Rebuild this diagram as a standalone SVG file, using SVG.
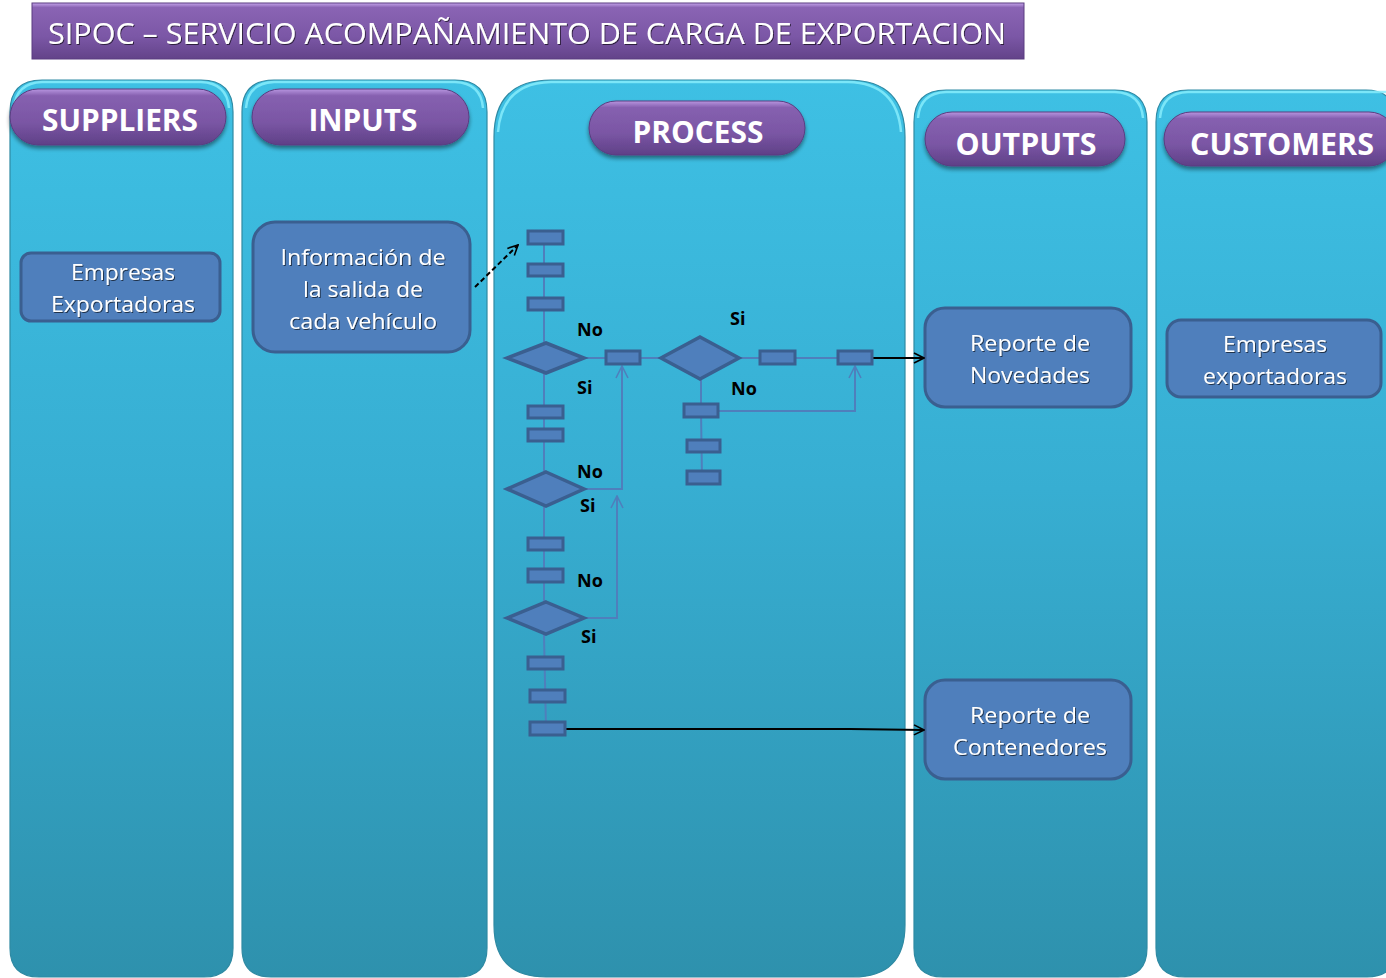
<svg xmlns="http://www.w3.org/2000/svg" width="1386" height="978" viewBox="0 0 1386 978">
  <defs>
    <linearGradient id="colFill" x1="0" y1="0" x2="0" y2="1">
      <stop offset="0" stop-color="#3ec0e4"/>
      <stop offset="0.45" stop-color="#37aed2"/>
      <stop offset="1" stop-color="#2e91ad"/>
    </linearGradient>
    <linearGradient id="pillFill" x1="0" y1="0" x2="0" y2="1">
      <stop offset="0" stop-color="#b896e0"/>
      <stop offset="0.12" stop-color="#8660b0"/>
      <stop offset="0.6" stop-color="#7a56a4"/>
      <stop offset="1" stop-color="#5f4087"/>
    </linearGradient>
    <linearGradient id="titleFill" x1="0" y1="0" x2="0" y2="1">
      <stop offset="0" stop-color="#c4a4ea"/>
      <stop offset="0.08" stop-color="#8a64b4"/>
      <stop offset="0.6" stop-color="#7b57a6"/>
      <stop offset="1" stop-color="#634389"/>
    </linearGradient>
    <filter id="pillShadow" x="-10%" y="-20%" width="120%" height="160%">
      <feGaussianBlur in="SourceAlpha" stdDeviation="2"/>
      <feOffset dy="3"/>
      <feComponentTransfer><feFuncA type="linear" slope="0.45"/></feComponentTransfer>
      <feMerge><feMergeNode/><feMergeNode in="SourceGraphic"/></feMerge>
    </filter>
    <filter id="txtShadow" x="-5%" y="-20%" width="110%" height="140%">
      <feGaussianBlur in="SourceAlpha" stdDeviation="0.6"/>
      <feOffset dx="1" dy="1"/>
      <feComponentTransfer><feFuncA type="linear" slope="0.6"/></feComponentTransfer>
      <feMerge><feMergeNode/><feMergeNode in="SourceGraphic"/></feMerge>
    </filter>
    <marker id="openArrow" viewBox="0 0 12 12" refX="11" refY="6" markerWidth="12" markerHeight="12" markerUnits="userSpaceOnUse" orient="auto">
      <path d="M1,1 L11,6 L1,11" fill="none" stroke="#000" stroke-width="1.6"/>
    </marker>
    <marker id="blueArrow" viewBox="0 0 14 14" refX="13" refY="7" markerWidth="14" markerHeight="14" markerUnits="userSpaceOnUse" orient="auto">
      <path d="M1,1 L13,7 L1,13" fill="none" stroke="#4f7fbc" stroke-width="1.6"/>
    </marker>
  </defs>
  <style>
    .col { fill: url(#colFill); stroke: #2f8aa3; stroke-width: 1.2; }
    .colTop { fill: none; stroke: #86ecfb; stroke-width: 2.5; opacity: 0.85; }
    .pill { fill: url(#pillFill); stroke: #5a3c80; stroke-width: 1; }
    .head { font-family: "Open Sans", "Liberation Sans", sans-serif; font-weight: bold; font-size: 30px; fill: #ffffff; text-anchor: middle; }
    .node { fill: #4f7fbc; stroke: #3a5f90; stroke-width: 3; }
    .ntxt { font-family: "Open Sans", "Liberation Sans", sans-serif; font-size: 21px; fill: #ffffff; text-anchor: middle; }
    .step { fill: #4f7fbc; stroke: #3a5f90; stroke-width: 3; }
    .dec { fill: #4f7fbc; stroke: #3a5f90; stroke-width: 3.5; stroke-linejoin: miter; }
    .flow { fill: none; stroke: #4f7fbc; stroke-width: 2; }
    .lbl { font-family: "Open Sans", "Liberation Sans", sans-serif; font-weight: bold; font-size: 18px; fill: #000000; }
    .conn { fill: none; stroke: #000000; stroke-width: 2; }
  </style>

  <rect width="1386" height="978" fill="#ffffff"/>

  <!-- title banner -->
  <g id="title">
    <rect x="32" y="3" width="992" height="56" fill="url(#titleFill)" stroke="#5a3c80" stroke-width="1"/>
    <text x="48" y="44" font-family="Open Sans, Liberation Sans, sans-serif" font-size="30" fill="#ffffff" textLength="958" lengthAdjust="spacingAndGlyphs" filter="url(#txtShadow)">SIPOC – SERVICIO ACOMPAÑAMIENTO DE CARGA DE EXPORTACION</text>
  </g>

  <!-- swimlane columns -->
  <g id="lanes">
    <g id="lane-suppliers">
      <path class="col" d="M10,112 Q10,80 42,80 L201,80 Q233,80 233,112 L233,948 Q233,977 204,977 L39,977 Q10,977 10,948 Z"/>
      <path class="colTop" d="M14,108 Q16,83 42,82 L201,82 Q227,83 229,108"/>
      <g filter="url(#pillShadow)">
        <rect class="pill" x="10" y="89" width="216" height="56" rx="28"/>
      </g>
      <text class="head" x="120" y="131" textLength="156" lengthAdjust="spacingAndGlyphs">SUPPLIERS</text>
    </g>
    <g id="lane-inputs">
      <path class="col" d="M242,112 Q242,80 274,80 L455,80 Q487,80 487,112 L487,948 Q487,977 458,977 L271,977 Q242,977 242,948 Z"/>
      <path class="colTop" d="M246,108 Q248,83 274,82 L455,82 Q481,83 483,108"/>
      <g filter="url(#pillShadow)">
        <rect class="pill" x="252" y="89" width="217" height="56" rx="28"/>
      </g>
      <text class="head" x="363" y="131" textLength="109" lengthAdjust="spacingAndGlyphs">INPUTS</text>
    </g>
    <g id="lane-process">
      <path class="col" d="M494,137 Q494,80 551,80 L848,80 Q905,80 905,137 L905,925 Q905,977 853,977 L546,977 Q494,977 494,925 Z"/>
      <path class="colTop" d="M498,132 Q502,83 551,82 L848,82 Q897,83 901,132"/>
      <g filter="url(#pillShadow)">
        <rect class="pill" x="589" y="101" width="216" height="54" rx="27"/>
      </g>
      <text class="head" x="698" y="143" textLength="131" lengthAdjust="spacingAndGlyphs">PROCESS</text>
    </g>
    <g id="lane-outputs">
      <path class="col" d="M914,122 Q914,90 946,90 L1115,90 Q1147,90 1147,122 L1147,948 Q1147,977 1118,977 L943,977 Q914,977 914,948 Z"/>
      <path class="colTop" d="M918,118 Q920,93 946,92 L1115,92 Q1141,93 1143,118"/>
      <g filter="url(#pillShadow)">
        <rect class="pill" x="925" y="112" width="200" height="54" rx="27"/>
      </g>
      <text class="head" x="1026" y="155" textLength="141" lengthAdjust="spacingAndGlyphs">OUTPUTS</text>
    </g>
    <g id="lane-customers">
      <path class="col" d="M1156,122 Q1156,90 1188,90 L1366,90 Q1396,90 1396,122 L1396,948 Q1396,977 1367,977 L1185,977 Q1156,977 1156,948 Z"/>
      <path class="colTop" d="M1160,118 Q1162,93 1188,92 L1386,92"/>
      <g filter="url(#pillShadow)">
        <rect class="pill" x="1164" y="112" width="232" height="54" rx="27"/>
      </g>
      <text class="head" x="1282" y="155" textLength="184" lengthAdjust="spacingAndGlyphs">CUSTOMERS</text>
    </g>
  </g>

  <!-- lane content boxes -->
  <g id="node-empresas-exportadoras">
    <rect class="node" x="21" y="253" width="199" height="68" rx="10"/>
    <g class="ntxt" filter="url(#txtShadow)">
      <text x="123" y="280" textLength="104" lengthAdjust="spacingAndGlyphs">Empresas</text>
      <text x="123" y="312" textLength="144" lengthAdjust="spacingAndGlyphs">Exportadoras</text>
    </g>
  </g>
  <g id="node-informacion">
    <rect class="node" x="253" y="222" width="217" height="130" rx="22"/>
    <g class="ntxt" filter="url(#txtShadow)">
      <text x="363" y="265" textLength="165" lengthAdjust="spacingAndGlyphs">Información de</text>
      <text x="363" y="297" textLength="120" lengthAdjust="spacingAndGlyphs">la salida de</text>
      <text x="363" y="329" textLength="148" lengthAdjust="spacingAndGlyphs">cada vehículo</text>
    </g>
  </g>
  <g id="node-reporte-novedades">
    <rect class="node" x="925" y="308" width="206" height="99" rx="20"/>
    <g class="ntxt" filter="url(#txtShadow)">
      <text x="1030" y="351" textLength="120" lengthAdjust="spacingAndGlyphs">Reporte de</text>
      <text x="1030" y="383" textLength="120" lengthAdjust="spacingAndGlyphs">Novedades</text>
    </g>
  </g>
  <g id="node-reporte-contenedores">
    <rect class="node" x="925" y="680" width="206" height="99" rx="20"/>
    <g class="ntxt" filter="url(#txtShadow)">
      <text x="1030" y="723" textLength="120" lengthAdjust="spacingAndGlyphs">Reporte de</text>
      <text x="1030" y="755" textLength="154" lengthAdjust="spacingAndGlyphs">Contenedores</text>
    </g>
  </g>
  <g id="node-empresas-clientes">
    <rect class="node" x="1167" y="320" width="214" height="77" rx="14"/>
    <g class="ntxt" filter="url(#txtShadow)">
      <text x="1275" y="352" textLength="104" lengthAdjust="spacingAndGlyphs">Empresas</text>
      <text x="1275" y="384" textLength="144" lengthAdjust="spacingAndGlyphs">exportadoras</text>
    </g>
  </g>

  <!-- process flow: lines under the shapes -->
  <g id="connectors">
    <path class="flow" d="M544,238 L544,342"/>
    <path class="flow" d="M544,374 L544,471"/>
    <path class="flow" d="M544,507 L544,601"/>
    <path class="flow" d="M544,635 L546,729"/>
    <path class="flow" d="M585,358 L660,358"/>
    <path class="flow" d="M740,358 L838,358"/>
    <path class="flow" d="M701,380 L701,411 L702,478"/>
    <path class="flow" d="M718,411 L855,411 L855,366" marker-end="url(#blueArrow)"/>
    <path class="flow" d="M585,489 L622,489 L622,366" marker-end="url(#blueArrow)"/>
    <path class="flow" d="M585,618 L617,618 L617,496" marker-end="url(#blueArrow)"/>
    <path class="conn" d="M872,358 L924,358" marker-end="url(#openArrow)"/>
    <path class="conn" d="M565,729 L850,729 L924,730" marker-end="url(#openArrow)"/>
    <path class="conn" d="M475,287 L518,245" stroke-dasharray="5,3" marker-end="url(#openArrow)"/>
  </g>

  <!-- process steps and decisions -->
  <g id="process-steps">
    <rect class="step" x="528" y="231" width="35" height="13"/>
    <rect class="step" x="528" y="264" width="35" height="12"/>
    <rect class="step" x="528" y="298" width="35" height="12"/>
    <rect class="step" x="606" y="351" width="34" height="13"/>
    <rect class="step" x="760" y="351" width="35" height="13"/>
    <rect class="step" x="838" y="351" width="34" height="13"/>
    <rect class="step" x="684" y="404" width="34" height="13"/>
    <rect class="step" x="687" y="440" width="33" height="12"/>
    <rect class="step" x="687" y="471" width="33" height="13"/>
    <rect class="step" x="528" y="406" width="35" height="12"/>
    <rect class="step" x="528" y="429" width="35" height="12"/>
    <rect class="step" x="528" y="538" width="35" height="12"/>
    <rect class="step" x="528" y="569" width="35" height="13"/>
    <rect class="step" x="528" y="657" width="35" height="12"/>
    <rect class="step" x="530" y="690" width="35" height="12"/>
    <rect class="step" x="530" y="722" width="35" height="13"/>
  </g>
  <g id="process-decisions">
    <polygon class="dec" points="546,343 584,358 546,373 507,358"/>
    <polygon class="dec" points="700,337 739,358 700,379 661,358"/>
    <polygon class="dec" points="546,472 584,489 546,506 507,489"/>
    <polygon class="dec" points="546,602 584,618 546,634 507,618"/>
  </g>
  <g id="decision-labels">
    <text class="lbl" x="577" y="336">No</text>
    <text class="lbl" x="577" y="394">Si</text>
    <text class="lbl" x="730" y="325">Si</text>
    <text class="lbl" x="731" y="395">No</text>
    <text class="lbl" x="577" y="478">No</text>
    <text class="lbl" x="580" y="512">Si</text>
    <text class="lbl" x="577" y="587">No</text>
    <text class="lbl" x="581" y="643">Si</text>
  </g>
</svg>
